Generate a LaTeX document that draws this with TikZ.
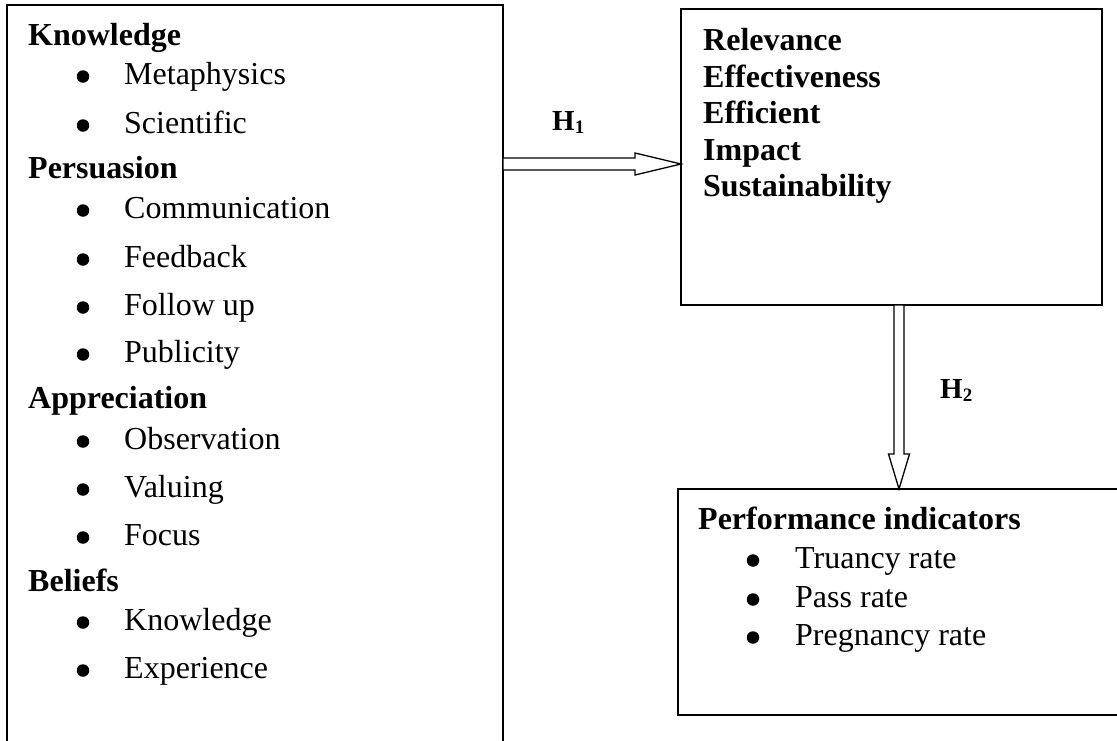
\documentclass[tikz,border=0pt]{standalone}
\usepackage{fontspec}
\setmainfont{Liberation Serif}
\usetikzlibrary{calc}
\tikzset{
  box/.style={draw, line width=1.4pt, inner sep=0pt, outer sep=0pt, anchor=north west},
  hd/.style={font=\fontsize{32}{38}\selectfont\bfseries, anchor=base west, inner sep=0pt},
  itm/.style={font=\fontsize{32}{38}\selectfont, anchor=base west, inner sep=0pt},
  dot/.style={circle, fill=black, inner sep=0pt, minimum size=12.5pt, yshift=7.5pt},
  fat/.style={draw, line width=1.3pt, fill=white, line join=miter},
  hlab/.style={font=\fontsize{29}{32}\selectfont\bfseries, anchor=base west, inner sep=0pt}
}
\newcommand{\hsub}[1]{H\raisebox{-3pt}{\fontsize{19}{20}\selectfont\bfseries #1}}
\begin{document}
\begin{tikzpicture}[x=1pt,y=-1pt]
\useasboundingbox (0,0) rectangle (1117,740);
\clip (0,0) rectangle (1117,740);
\fill[white] (0,0) rectangle (1117,740);
% boxes
\node[box, minimum width=496pt, minimum height=800pt] (L) at (7,5) {};
\node[box, minimum width=421pt, minimum height=296pt] (R) at (681,9) {};
\node[box, minimum width=500pt, minimum height=226pt] (P) at (678,489) {};
% left box content
\node[hd] (k) at (28,45) {Knowledge};
\node[dot] (b1) at (83,84) {};  \node[itm] (t1) at (124,84) {Metaphysics};
\node[dot] (b2) at (83,133) {}; \node[itm] (t2) at (124,133) {Scientific};
\node[hd] (p) at (28,178) {Persuasion};
\node[dot] (b3) at (83,218) {}; \node[itm] (t3) at (124,218) {Communication};
\node[dot] (b4) at (83,267) {}; \node[itm] (t4) at (124,267) {Feedback};
\node[dot] (b5) at (83,315) {}; \node[itm] (t5) at (124,315) {Follow up};
\node[dot] (b6) at (83,362) {}; \node[itm] (t6) at (124,362) {Publicity};
\node[hd] (a) at (28,408) {Appreciation};
\node[dot] (b7) at (83,449) {}; \node[itm] (t7) at (124,449) {Observation};
\node[dot] (b8) at (83,497) {}; \node[itm] (t8) at (124,497) {Valuing};
\node[dot] (b9) at (83,545) {}; \node[itm] (t9) at (124,545) {Focus};
\node[hd] (be) at (28,591) {Beliefs};
\node[dot] (b10) at (83,630) {}; \node[itm] (t10) at (124,630) {Knowledge};
\node[dot] (b11) at (83,678) {}; \node[itm] (t11) at (124,678) {Experience};
% right top box content
\node[hd] (r1) at (703,50) {Relevance};
\node[hd] (r2) at (703,87) {Effectiveness};
\node[hd] (r3) at (703,123) {Efficient};
\node[hd] (r4) at (703,160) {Impact};
\node[hd] (r5) at (703,196) {Sustainability};
% bottom right box content
\node[hd] (pi) at (698,529) {Performance indicators};
\node[dot] (c1) at (753,568) {}; \node[itm] (u1) at (795,568) {Truancy rate};
\node[dot] (c2) at (753,607) {}; \node[itm] (u2) at (795,607) {Pass rate};
\node[dot] (c3) at (753,645) {}; \node[itm] (u3) at (795,645) {Pregnancy rate};
% arrow H1
\coordinate (s1) at (L.east |- 0,164);
\coordinate (e1) at (R.west |- 0,164);
\draw[fat] ($(s1)+(0,-6)$) -- ($(e1)+(-46,-6)$) -- ($(e1)+(-46,-11)$) -- (e1)
  -- ($(e1)+(-46,11)$) -- ($(e1)+(-46,6)$) -- ($(s1)+(0,6)$) -- cycle;
\node[hlab] (h1) at (552,130) {\hsub{1}};
% arrow H2
\coordinate (s2) at (R.south -| 899,0);
\coordinate (e2) at (P.north -| 899,0);
\draw[fat] ($(s2)+(-5,0)$) -- ($(e2)+(-5,-35)$) -- ($(e2)+(-10.5,-35)$) -- (e2)
  -- ($(e2)+(10.5,-35)$) -- ($(e2)+(5,-35)$) -- ($(s2)+(5,0)$) -- cycle;
\node[hlab] (h2) at (940,398) {\hsub{2}};
\end{tikzpicture}
\end{document}
